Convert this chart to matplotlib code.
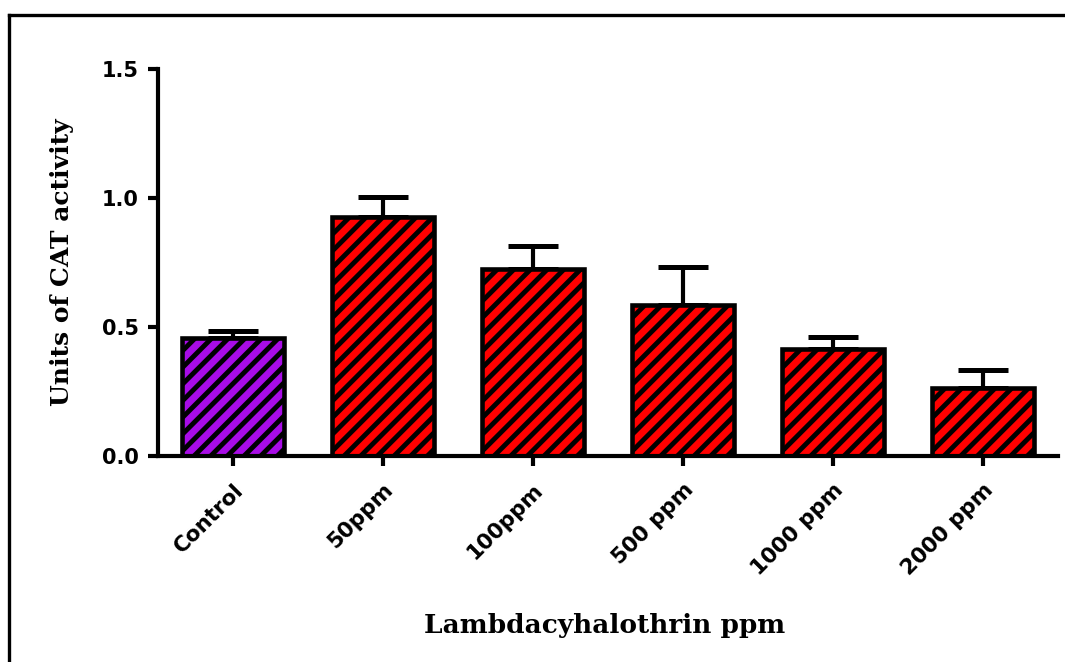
import numpy as np
import matplotlib
matplotlib.use("Agg")
import matplotlib.pyplot as plt
from matplotlib.lines import Line2D

# donnees
groups = ["Control", "50ppm", "100ppm", "500 ppm", "1000 ppm", "2000 ppm"]
means = [0.457, 0.925, 0.725, 0.587, 0.413, 0.262]
sem = [0.028, 0.077, 0.088, 0.144, 0.050, 0.070]
bar_colors = ["#A80CE6", "#FF0000", "#FF0000", "#FF0000", "#FF0000", "#FF0000"]

plt.rcParams["hatch.linewidth"] = 3.5
plt.rcParams["hatch.color"] = "black"

fig = plt.figure(figsize=(10.65, 6.62), dpi=100)
ax = fig.add_axes([158 / 1065, 1 - 456 / 662, 900 / 1065, 387 / 662])

x = np.arange(len(groups))
ax.errorbar(x, means, yerr=[np.zeros(len(sem)), sem], fmt="none", ecolor="black",
            elinewidth=3.0, capsize=18, capthick=3.6, zorder=1)
ax.bar(x, means, width=0.68, color=bar_colors, edgecolor="black",
       linewidth=3.3, hatch="//", zorder=2)

ax.set_xlim(-0.5, 5.5)
ax.set_ylim(0, 1.5)
ax.set_yticks([0.0, 0.5, 1.0, 1.5])
ax.set_yticklabels(["0.0", "0.5", "1.0", "1.5"], fontsize=15, fontweight="bold",
                   family="DejaVu Sans")
ax.set_xticks(x)
ax.set_xticklabels(groups, fontsize=15.5, fontweight="bold", family="DejaVu Sans",
                   rotation=45, ha="right", rotation_mode="anchor")

# axes facon prism
ax.spines["top"].set_visible(False)
ax.spines["right"].set_visible(False)
for s in ["left", "bottom"]:
    ax.spines[s].set_linewidth(3.0)
    ax.spines[s].set_capstyle("projecting")
ax.tick_params(axis="both", direction="out", length=7, width=3.0)
ax.tick_params(axis="y", pad=7)
ax.tick_params(axis="x", pad=10)

fig.text(62 / 1065, 1 - 262 / 662, "Units of CAT activity", rotation=90,
         ha="center", va="center", fontsize=18, fontweight="bold",
         family="DejaVu Serif")
fig.text(605 / 1065, 1 - 626 / 662, "Lambdacyhalothrin ppm",
         ha="center", va="center", fontsize=19, fontweight="bold",
         family="DejaVu Serif")

# cadre
fig.add_artist(Line2D([9 / 1065, 1.01], [1 - 15 / 662] * 2, color="black",
                      lw=2.4, transform=fig.transFigure))
fig.add_artist(Line2D([9 / 1065] * 2, [-0.01, 1 - 15 / 662], color="black",
                      lw=2.4, transform=fig.transFigure))

plt.savefig("out.png", dpi=100, facecolor="white")
